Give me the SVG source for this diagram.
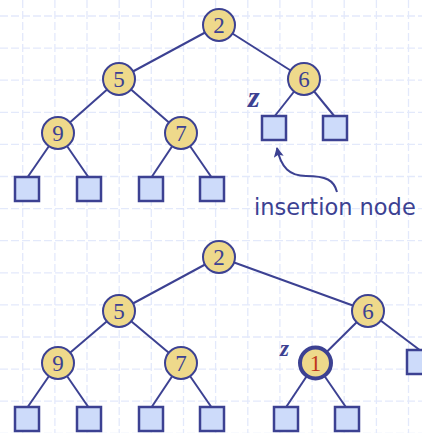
<svg xmlns="http://www.w3.org/2000/svg" width="422" height="433" viewBox="0 0 422 433">
<defs>
<style>
.grid line{stroke:#e3e9fb;stroke-width:1.3;stroke-dasharray:8 3}
.edge{stroke:#3c4192;stroke-width:2;fill:none}
.n circle{fill:#eed98b;stroke:#3c4192;stroke-width:2}
.n text{font-family:"Liberation Serif","Times New Roman",serif;font-size:23px;fill:#3c4192;text-anchor:middle}
.leaf{fill:#cddbfa;stroke:#3c4192;stroke-width:2.5}
.z{font-family:"Liberation Serif",serif;font-style:italic;font-weight:bold;font-size:30px;fill:#3c4192}
.lbl{font-family:"DejaVu Sans",Tahoma,sans-serif;font-size:22.5px;fill:#3c4192}
</style>
<marker id="ah" viewBox="0 0 10 10" refX="9" refY="5" markerWidth="10" markerHeight="10" markerUnits="userSpaceOnUse" orient="auto">
<path d="M0,0 L10,5 L0,10 L2,5 Z" fill="#3c4192"/>
</marker>
</defs>
<rect width="422" height="433" fill="#ffffff"/>
<g class="grid">
<line x1="22.7" y1="0" x2="22.7" y2="433"/>
<line x1="54.9" y1="0" x2="54.9" y2="433"/>
<line x1="87" y1="0" x2="87" y2="433"/>
<line x1="119.2" y1="0" x2="119.2" y2="433"/>
<line x1="151.3" y1="0" x2="151.3" y2="433"/>
<line x1="183.5" y1="0" x2="183.5" y2="433"/>
<line x1="215.6" y1="0" x2="215.6" y2="433"/>
<line x1="247.8" y1="0" x2="247.8" y2="433"/>
<line x1="279.9" y1="0" x2="279.9" y2="433"/>
<line x1="312.1" y1="0" x2="312.1" y2="433"/>
<line x1="344.2" y1="0" x2="344.2" y2="433"/>
<line x1="376.4" y1="0" x2="376.4" y2="433"/>
<line x1="408.5" y1="0" x2="408.5" y2="433"/>
<line x1="0" y1="16" x2="422" y2="16"/>
<line x1="0" y1="48.1" x2="422" y2="48.1"/>
<line x1="0" y1="80.2" x2="422" y2="80.2"/>
<line x1="0" y1="112.3" x2="422" y2="112.3"/>
<line x1="0" y1="144.4" x2="422" y2="144.4"/>
<line x1="0" y1="176.5" x2="422" y2="176.5"/>
<line x1="0" y1="208.6" x2="422" y2="208.6"/>
<line x1="0" y1="240.7" x2="422" y2="240.7"/>
<line x1="0" y1="272.8" x2="422" y2="272.8"/>
<line x1="0" y1="304.9" x2="422" y2="304.9"/>
<line x1="0" y1="337" x2="422" y2="337"/>
<line x1="0" y1="369.1" x2="422" y2="369.1"/>
<line x1="0" y1="401.2" x2="422" y2="401.2"/>
<line x1="0" y1="433.3" x2="422" y2="433.3"/>
</g>
<g id="connectors">
<line class="edge" x1="219" y1="25" x2="119" y2="79"/>
<line class="edge" x1="219" y1="25" x2="304" y2="79"/>
<line class="edge" x1="119" y1="79" x2="58" y2="133"/>
<line class="edge" x1="119" y1="79" x2="181" y2="133"/>
<line class="edge" x1="304" y1="79" x2="274" y2="117"/>
<line class="edge" x1="304" y1="79" x2="335" y2="117"/>
<line class="edge" x1="58" y1="133" x2="27" y2="178"/>
<line class="edge" x1="58" y1="133" x2="89" y2="178"/>
<line class="edge" x1="181" y1="133" x2="151" y2="178"/>
<line class="edge" x1="181" y1="133" x2="212" y2="178"/>
<path class="edge" d="M337,192 C334,180 326,176 306,176 C290,176 281,168 277,148" marker-end="url(#ah)"/>
<line class="edge" x1="219" y1="257" x2="119" y2="311"/>
<line class="edge" x1="219" y1="257" x2="368" y2="311"/>
<line class="edge" x1="119" y1="311" x2="58" y2="363"/>
<line class="edge" x1="119" y1="311" x2="181" y2="363"/>
<line class="edge" x1="368" y1="311" x2="315.5" y2="363"/>
<line class="edge" x1="368" y1="311" x2="421" y2="351"/>
<line class="edge" x1="58" y1="363" x2="27" y2="408"/>
<line class="edge" x1="58" y1="363" x2="89" y2="408"/>
<line class="edge" x1="181" y1="363" x2="151" y2="408"/>
<line class="edge" x1="181" y1="363" x2="212" y2="408"/>
<line class="edge" x1="315.5" y1="363" x2="285.5" y2="408"/>
<line class="edge" x1="315.5" y1="363" x2="346.5" y2="408"/>
</g>
<g id="top-n2" class="n"><circle cx="219" cy="25" r="16"/><text x="219" y="33">2</text></g>
<g id="top-n5" class="n"><circle cx="119" cy="79" r="16"/><text x="119" y="87">5</text></g>
<g id="top-n6" class="n"><circle cx="304" cy="79" r="16"/><text x="304" y="87">6</text></g>
<g id="top-n9" class="n"><circle cx="58" cy="133" r="16"/><text x="58" y="141">9</text></g>
<g id="top-n7" class="n"><circle cx="181" cy="133" r="16"/><text x="181" y="141">7</text></g>
<g id="top-z"><rect class="leaf" x="262" y="116" width="24" height="24"/><text class="z" x="248" y="107">z</text></g>
<g id="top-l6r"><rect class="leaf" x="323" y="116" width="24" height="24"/></g>
<g id="top-l1"><rect class="leaf" x="15" y="177" width="24" height="24"/></g>
<g id="top-l2"><rect class="leaf" x="77" y="177" width="24" height="24"/></g>
<g id="top-l3"><rect class="leaf" x="139" y="177" width="24" height="24"/></g>
<g id="top-l4"><rect class="leaf" x="200" y="177" width="24" height="24"/></g>
<g id="insertion-label"><text class="lbl" x="254" y="215">insertion node</text></g>
<g id="bot-n2" class="n"><circle cx="219" cy="257" r="16"/><text x="219" y="265">2</text></g>
<g id="bot-n5" class="n"><circle cx="119" cy="311" r="16"/><text x="119" y="319">5</text></g>
<g id="bot-n6" class="n"><circle cx="368" cy="311" r="16"/><text x="368" y="319">6</text></g>
<g id="bot-n9" class="n"><circle cx="58" cy="363" r="16"/><text x="58" y="371">9</text></g>
<g id="bot-n7" class="n"><circle cx="181" cy="363" r="16"/><text x="181" y="371">7</text></g>
<g id="bot-n1" class="n"><circle cx="315.5" cy="363" r="15.5" style="stroke-width:4"/><text x="315.5" y="371" style="fill:#c0361c">1</text><text class="z" x="280" y="356" style="text-anchor:start">z</text></g>
<g id="bot-l6r"><rect class="leaf" x="407" y="350" width="24" height="24"/></g>
<g id="bot-l1"><rect class="leaf" x="15" y="407" width="24" height="24"/></g>
<g id="bot-l2"><rect class="leaf" x="77" y="407" width="24" height="24"/></g>
<g id="bot-l3"><rect class="leaf" x="139" y="407" width="24" height="24"/></g>
<g id="bot-l4"><rect class="leaf" x="200" y="407" width="24" height="24"/></g>
<g id="bot-l5"><rect class="leaf" x="274" y="407" width="24" height="24"/></g>
<g id="bot-l6"><rect class="leaf" x="335" y="407" width="24" height="24"/></g>
</svg>
